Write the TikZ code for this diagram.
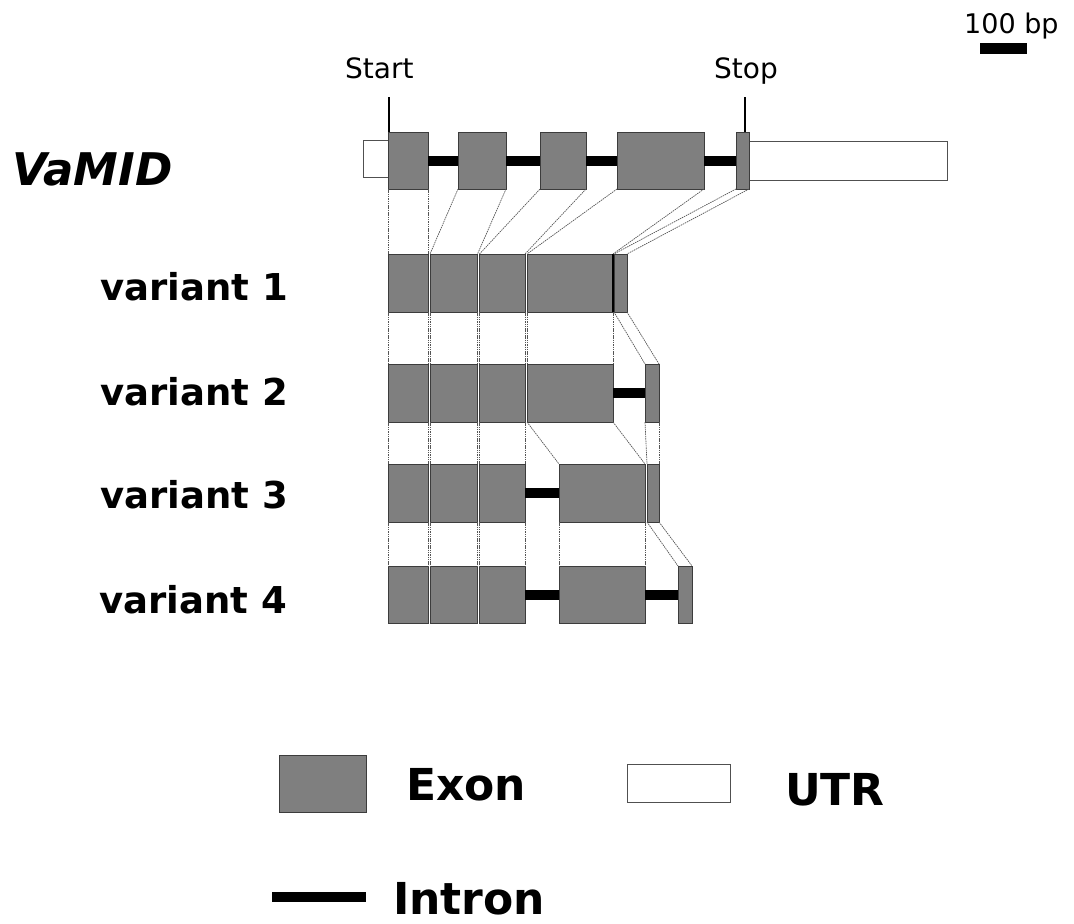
\documentclass[tikz,border=0pt]{standalone}
\usepackage{fontspec}
\setmainfont{DejaVu Sans}
\definecolor{exfill}{HTML}{7F7F7F}
\definecolor{exline}{HTML}{3C3C3C}
\definecolor{utrline}{HTML}{505050}
\definecolor{conncol}{HTML}{555555}
\tikzset{
  exon/.style={rectangle, draw=exline, fill=exfill, line width=0.8pt, inner sep=0pt, outer sep=0pt, anchor=north west},
  utr/.style={rectangle, draw=utrline, fill=white, line width=0.8pt, inner sep=0pt, outer sep=0pt, anchor=north west},
  intron/.style={line width=10pt, black},
  conn/.style={draw=conncol, line width=0.7pt, dash pattern=on 1.5pt off 0.8pt},
  tickline/.style={line width=1.3pt, black},
  lbl/.style={inner sep=0pt, anchor=base west},
  smalltxt/.style={lbl, font=\fontsize{28}{32}\selectfont},
  vartxt/.style={lbl, font=\fontsize{37}{42}\selectfont\bfseries},
  legtxt/.style={lbl, font=\fontsize{44}{50}\selectfont\bfseries},
}
\newcommand\exbox[5]{\node[exon, minimum width=#4pt, minimum height=#5pt] (#1) at (#2,#3) {};}
\begin{document}
\begin{tikzpicture}[x=1pt, y=-1pt]
\useasboundingbox (0,0) rectangle (1074,924);

% scale bar
\node[lbl, font=\fontsize{27}{30}\selectfont] (bptxt) at (964,33) {100 bp};
\node[rectangle, fill=black, inner sep=0pt, minimum width=47pt, minimum height=11pt, anchor=north west] (bar) at (980,43) {};

% gene label
\node[lbl, font=\fontsize{45}{50}\selectfont\bfseries\itshape] (gname) at (12,185) {VaMID};
\node[vartxt] (v1) at (100,300) {variant 1};
\node[vartxt] (v2) at (100,405) {variant 2};
\node[vartxt] (v3) at (100,508) {variant 3};
\node[vartxt] (v4) at (99,613) {variant 4};

% UTRs
\node[utr, minimum width=25pt, minimum height=37pt] (u1) at (363,140) {};
\node[utr, minimum width=199pt, minimum height=39pt] (u2) at (748,141) {};

% VaMID exons
\exbox{g1}{388}{132}{40}{57}
\exbox{g2}{458}{132}{48}{57}
\exbox{g3}{540}{132}{46}{57}
\exbox{g4}{617}{132}{87}{57}
\exbox{g5}{736}{132}{13}{57}

% variant 1
\exbox{a1}{388}{254}{40}{58}
\exbox{a2}{430}{254}{47.5}{58}
\exbox{a3}{479.5}{254}{45.5}{58}
\exbox{a4}{527}{254}{86}{58}
\exbox{a5}{614}{254}{13}{58}
% variant 2
\exbox{b1}{388}{364}{40}{58}
\exbox{b2}{430}{364}{47.5}{58}
\exbox{b3}{479.5}{364}{45.5}{58}
\exbox{b4}{527}{364}{86}{58}
\exbox{b5}{645}{364}{14}{58}
% variant 3
\exbox{c1}{388}{464}{40}{58}
\exbox{c2}{430}{464}{47.5}{58}
\exbox{c3}{479.5}{464}{45.5}{58}
\exbox{c4}{559}{464}{86}{58}
\exbox{c5}{647}{464}{12}{58}
% variant 4
\exbox{d1}{388}{566}{40}{57}
\exbox{d2}{430}{566}{47.5}{57}
\exbox{d3}{479.5}{566}{45.5}{57}
\exbox{d4}{559}{566}{86}{57}
\exbox{d5}{678}{566}{14}{57}

% introns
\draw[intron] (g1) -- (g2);
\draw[intron] (g2) -- (g3);
\draw[intron] (g3) -- (g4);
\draw[intron] (g4) -- (g5);
\draw[intron] (b4) -- (b5);
\draw[intron] (c3) -- (c4);
\draw[intron] (d3) -- (d4);
\draw[intron] (d4) -- (d5);

% boundary mark in variant 1
\draw[black, line width=1.2pt] (a4.north east) -- (a4.south east);

% connectors
\foreach \p/\q in {g/a,a/b,b/c,c/d}{
  \foreach \i in {1,...,5}{
    \draw[conn] (\p\i.south west) -- (\q\i.north west);
    \draw[conn] (\p\i.south east) -- (\q\i.north east);
  }
}

% start / stop
\node[smalltxt] (starttxt) at (345,78) {Start};
\node[smalltxt] (stoptxt) at (714,78) {Stop};
\coordinate (sT) at (389,97);
\coordinate (pT) at (745,97);
\draw[tickline] (sT) -- (sT |- g1.north);
\draw[tickline] (pT) -- (pT |- g5.north);

% legend
\node[exon, minimum width=87pt, minimum height=57pt] (legexon) at (279,755) {};
\node[legtxt] (exontxt) at (406,800) {Exon};
\node[utr, minimum width=103pt, minimum height=38pt] (legutr) at (627,764) {};
\node[legtxt] (utrtxt) at (785,805) {UTR};
\coordinate (li1) at (272,897);
\coordinate (li2) at (366,897);
\draw[intron] (li1) -- (li2);
\node[legtxt] (introntxt) at (393,914) {Intron};
\end{tikzpicture}
\end{document}
